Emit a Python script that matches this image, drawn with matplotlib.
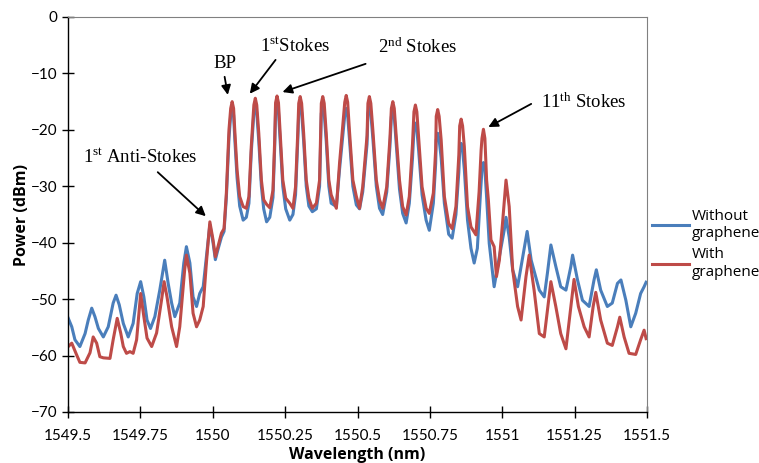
import numpy as np
import matplotlib
matplotlib.use('Agg')
import matplotlib.pyplot as plt

# wavelength (nm) / power (dBm)
wl_without = [
    1549.501, 1549.513, 1549.524, 1549.541, 1549.559, 1549.570, 1549.582, 1549.593,
    1549.605, 1549.622, 1549.639, 1549.656, 1549.666, 1549.677, 1549.691, 1549.708,
    1549.725, 1549.739, 1549.751, 1549.762, 1549.773, 1549.785, 1549.800, 1549.817,
    1549.834, 1549.846, 1549.858, 1549.869, 1549.886, 1549.900, 1549.909, 1549.921,
    1549.932, 1549.944, 1549.955, 1549.967, 1549.978, 1549.990, 1550.001, 1550.009,
    1550.018, 1550.030, 1550.039, 1550.047, 1550.056, 1550.067, 1550.076, 1550.084,
    1550.093, 1550.105, 1550.116, 1550.125, 1550.133, 1550.147, 1550.159, 1550.168,
    1550.176, 1550.186, 1550.197, 1550.208, 1550.214, 1550.222, 1550.233, 1550.242,
    1550.252, 1550.266, 1550.277, 1550.286, 1550.294, 1550.302, 1550.314, 1550.323,
    1550.332, 1550.344, 1550.358, 1550.369, 1550.380, 1550.392, 1550.401, 1550.409,
    1550.427, 1550.438, 1550.461, 1550.472, 1550.484, 1550.496, 1550.507, 1550.518,
    1550.533, 1550.541, 1550.553, 1550.565, 1550.576, 1550.587, 1550.601, 1550.612,
    1550.622, 1550.633, 1550.645, 1550.656, 1550.668, 1550.679, 1550.690, 1550.700,
    1550.711, 1550.723, 1550.737, 1550.748, 1550.762, 1550.770, 1550.777, 1550.789,
    1550.800, 1550.815, 1550.827, 1550.840, 1550.850, 1550.858, 1550.869, 1550.880,
    1550.892, 1550.903, 1550.914, 1550.925, 1550.935, 1550.946, 1550.955, 1550.972,
    1550.990, 1551.007, 1551.013, 1551.024, 1551.036, 1551.053, 1551.071, 1551.086,
    1551.100, 1551.128, 1551.145, 1551.156, 1551.168, 1551.185, 1551.202, 1551.220,
    1551.237, 1551.243, 1551.260, 1551.277, 1551.300, 1551.317, 1551.325, 1551.340,
    1551.363, 1551.380, 1551.398, 1551.410, 1551.427, 1551.444, 1551.461, 1551.478,
    1551.490, 1551.497,
]
p_without = [
    -53.4, -54.9, -57.2, -58.4, -56.1, -53.7, -51.6, -53.1,
    -55.2, -56.7, -54.9, -50.7, -49.3, -51.0, -54.3, -56.7,
    -54.3, -49.0, -46.9, -49.6, -53.7, -55.2, -53.1, -48.4,
    -43.1, -47.2, -50.7, -53.1, -50.7, -43.6, -40.7, -43.6,
    -49.6, -51.3, -49.0, -47.8, -42.5, -36.8, -40.0, -43.0,
    -41.2, -39.0, -38.0, -32.0, -21.5, -16.2, -21.5, -28.5,
    -33.5, -36.0, -35.5, -33.0, -24.0, -15.8, -22.0, -30.0,
    -34.0, -36.3, -35.5, -32.0, -23.0, -15.6, -22.0, -30.0,
    -34.0, -36.0, -35.0, -31.5, -21.5, -15.7, -22.0, -30.0,
    -33.5, -34.5, -34.0, -30.0, -15.9, -22.0, -30.0, -33.0,
    -33.6, -27.0, -16.2, -21.5, -30.0, -33.3, -34.0, -31.0,
    -22.5, -15.9, -21.5, -30.0, -33.9, -35.0, -31.0, -23.0,
    -16.5, -22.0, -30.5, -34.8, -36.5, -33.0, -25.0, -18.8,
    -23.5, -31.5, -36.0, -37.8, -33.0, -26.0, -20.6, -25.0,
    -33.0, -38.5, -39.2, -35.0, -27.5, -22.4, -27.0, -36.0,
    -41.0, -43.6, -41.0, -31.0, -25.8, -32.0, -40.1, -47.8,
    -42.5, -37.7, -35.5, -39.0, -44.8, -47.8, -42.5, -38.0,
    -43.1, -48.4, -49.6, -45.4, -40.4, -44.2, -47.8, -48.4,
    -44.2, -42.2, -46.6, -50.2, -51.3, -46.6, -44.8, -48.4,
    -51.3, -50.7, -47.2, -46.6, -50.2, -54.9, -52.5, -49.0,
    -47.8, -47.0,
]
# shoulder points just either side of each Stokes peak top (rounded tops)
wl_without_tops = [
    1550.062, 1550.072, 1550.142, 1550.152, 1550.217, 1550.227, 1550.297, 1550.307,
    1550.375, 1550.385, 1550.456, 1550.466, 1550.536, 1550.546, 1550.617, 1550.627,
    1550.695, 1550.705, 1550.772, 1550.782, 1550.853, 1550.863, 1550.930, 1550.940,
]
p_without_tops = [
    -17.4, -17.4, -17.0, -17.0, -16.8, -16.8, -16.9, -16.9,
    -17.1, -17.1, -17.4, -17.4, -17.1, -17.1, -17.7, -17.7,
    -20.0, -20.0, -21.8, -21.8, -23.6, -23.6, -27.0, -27.0,
]

wl_with = [
    1549.501, 1549.513, 1549.530, 1549.541, 1549.559, 1549.576, 1549.587, 1549.599,
    1549.610, 1549.622, 1549.645, 1549.656, 1549.670, 1549.682, 1549.691, 1549.702,
    1549.714, 1549.725, 1549.737, 1549.751, 1549.762, 1549.773, 1549.789, 1549.806,
    1549.823, 1549.832, 1549.842, 1549.858, 1549.875, 1549.886, 1549.903, 1549.909,
    1549.921, 1549.932, 1549.944, 1549.955, 1549.967, 1549.978, 1549.990, 1550.001,
    1550.009, 1550.018, 1550.030, 1550.039, 1550.047, 1550.056, 1550.067, 1550.076,
    1550.084, 1550.093, 1550.105, 1550.116, 1550.125, 1550.133, 1550.147, 1550.159,
    1550.168, 1550.176, 1550.186, 1550.197, 1550.208, 1550.214, 1550.222, 1550.233,
    1550.242, 1550.252, 1550.266, 1550.277, 1550.286, 1550.294, 1550.302, 1550.314,
    1550.323, 1550.332, 1550.344, 1550.358, 1550.369, 1550.380, 1550.392, 1550.401,
    1550.409, 1550.427, 1550.438, 1550.461, 1550.472, 1550.484, 1550.496, 1550.507,
    1550.518, 1550.533, 1550.541, 1550.553, 1550.565, 1550.576, 1550.587, 1550.601,
    1550.612, 1550.622, 1550.633, 1550.645, 1550.656, 1550.668, 1550.679, 1550.690,
    1550.700, 1550.711, 1550.723, 1550.737, 1550.748, 1550.762, 1550.770, 1550.777,
    1550.789, 1550.800, 1550.815, 1550.827, 1550.840, 1550.850, 1550.858, 1550.869,
    1550.880, 1550.892, 1550.909, 1550.920, 1550.927, 1550.935, 1550.946, 1550.952,
    1550.961, 1550.972, 1550.980, 1550.990, 1551.001, 1551.013, 1551.024, 1551.036,
    1551.053, 1551.065, 1551.082, 1551.093, 1551.110, 1551.128, 1551.145, 1551.160,
    1551.168, 1551.185, 1551.202, 1551.220, 1551.237, 1551.248, 1551.263, 1551.283,
    1551.300, 1551.314, 1551.323, 1551.340, 1551.363, 1551.380, 1551.398, 1551.406,
    1551.421, 1551.438, 1551.461, 1551.478, 1551.490, 1551.497,
]
p_with = [
    -58.4, -57.8, -59.9, -61.2, -61.3, -59.5, -56.7, -57.8,
    -60.2, -60.4, -60.5, -57.2, -53.4, -56.0, -58.4, -59.6,
    -59.3, -59.6, -57.2, -49.0, -53.1, -56.9, -58.4, -56.0,
    -50.2, -46.9, -49.6, -54.9, -58.4, -54.9, -44.8, -42.2,
    -45.4, -52.5, -54.9, -53.7, -51.3, -43.6, -36.3, -39.5,
    -42.5, -40.7, -38.3, -37.5, -31.2, -20.0, -15.0, -20.0,
    -27.1, -31.8, -33.6, -33.9, -31.8, -23.0, -14.4, -20.6,
    -28.9, -32.4, -33.2, -33.8, -30.7, -21.8, -14.0, -20.6,
    -28.9, -32.1, -33.0, -33.9, -30.1, -20.0, -14.1, -20.6,
    -28.9, -32.1, -33.9, -33.0, -28.9, -14.1, -20.6, -28.9,
    -31.5, -33.9, -25.9, -13.9, -20.0, -28.9, -31.8, -33.9,
    -30.1, -21.0, -14.1, -20.0, -28.9, -32.4, -33.9, -30.1,
    -21.5, -15.0, -20.6, -28.9, -33.6, -35.1, -31.8, -22.5,
    -15.6, -21.2, -30.1, -33.9, -34.8, -31.2, -23.5, -16.4,
    -21.8, -31.8, -36.6, -37.5, -33.6, -24.5, -18.1, -23.0,
    -33.6, -37.2, -38.6, -31.0, -23.6, -19.9, -28.9, -32.4,
    -39.5, -40.7, -46.0, -43.1, -36.5, -28.9, -33.6, -44.8,
    -51.3, -53.7, -46.0, -42.2, -48.4, -56.1, -56.7, -50.2,
    -46.9, -51.3, -56.1, -58.8, -51.3, -46.5, -51.3, -54.9,
    -56.7, -51.3, -48.8, -53.7, -57.8, -58.2, -54.9, -53.2,
    -56.7, -59.6, -59.8, -57.2, -55.5, -57.0,
]
wl_with_tops = [
    1550.062, 1550.072, 1550.142, 1550.152, 1550.217, 1550.227, 1550.297, 1550.307,
    1550.375, 1550.385, 1550.456, 1550.466, 1550.536, 1550.546, 1550.617, 1550.627,
    1550.695, 1550.705, 1550.772, 1550.782, 1550.853, 1550.863, 1550.930, 1550.940,
]
p_with_tops = [
    -16.2, -16.2, -15.6, -15.6, -15.2, -15.2, -15.3, -15.3,
    -15.3, -15.3, -15.1, -15.1, -15.3, -15.3, -16.2, -16.2,
    -16.8, -16.8, -17.6, -17.6, -19.3, -19.3, -21.5, -21.5,
]

x_ticks = [1549.5, 1549.75, 1550, 1550.25, 1550.5, 1550.75, 1551, 1551.25, 1551.5]
x_ticklabels = ['1549.5', '1549.75', '1550', '1550.25', '1550.5', '1550.75',
                '1551', '1551.25', '1551.5']
y_ticks = [0, -10, -20, -30, -40, -50, -60, -70]


def merged(wl, p, wl_tops, p_tops):
    w = np.concatenate([wl, wl_tops])
    v = np.concatenate([p, p_tops])
    order = np.argsort(w)
    return w[order], v[order]


plt.rcParams['mathtext.fontset'] = 'custom'
plt.rcParams['mathtext.rm'] = 'Liberation Serif'
plt.rcParams['mathtext.it'] = 'Liberation Serif:italic'

fig = plt.figure(figsize=(7.59, 4.63), dpi=100)
ax = fig.add_axes([68 / 759, 51 / 463, 579 / 759, 395 / 463])

w1, v1 = merged(wl_without, p_without, wl_without_tops, p_without_tops)
w2, v2 = merged(wl_with, p_with, wl_with_tops, p_with_tops)
ax.plot(w1, v1, color='#4A7EBB', lw=2.2, label='Without\ngraphene')
ax.plot(w2, v2, color='#BE4B48', lw=2.2, label='With\ngraphene')

ax.set_xlim(1549.5, 1551.5)
ax.set_ylim(-70, 0)
ax.set_xticks(x_ticks)
ax.set_xticklabels(x_ticklabels)
ax.set_yticks(y_ticks)
ax.tick_params(direction='inout', length=8, width=1, labelsize=11, colors='black')
ax.tick_params(axis='x', pad=8)
for lab in ax.get_xticklabels() + ax.get_yticklabels():
    lab.set_family('Lato')

for s in ['left', 'bottom']:
    ax.spines[s].set_color('black')
    ax.spines[s].set_linewidth(1.0)
for s in ['top', 'right']:
    ax.spines[s].set_color('#808080')
    ax.spines[s].set_linewidth(0.8)

ax.set_xlabel('Wavelength (nm)', family='Open Sans', fontweight='bold', fontsize=11.5, labelpad=3)
ax.set_ylabel('Power (dBm)', family='Open Sans', fontweight='bold', fontsize=11.5, labelpad=1)

# annotations
arrow = dict(arrowstyle='-|>', color='black', lw=1.3, mutation_scale=14, shrinkA=0, shrinkB=0)
tfont = dict(family='Liberation Serif', fontsize=13.5, color='black')

ax.annotate('', xy=(1549.976, -35.3), xytext=(1549.810, -27.5), arrowprops=arrow)
ax.text(1549.552, -24.8, r'1$^{\rm st}$ Anti-Stokes', ha='left', va='center', **tfont)

ax.annotate('', xy=(1550.052, -13.8), xytext=(1550.041, -10.6), arrowprops=arrow)
ax.text(1550.041, -8.3, 'BP', ha='center', va='center', **tfont)

ax.annotate('', xy=(1550.128, -13.6), xytext=(1550.217, -7.6), arrowprops=arrow)
ax.text(1550.283, -5.1, r'1$^{\rm st}$Stokes', ha='center', va='center', **tfont)

ax.annotate('', xy=(1550.241, -13.3), xytext=(1550.528, -8.3), arrowprops=arrow)
ax.text(1550.707, -5.3, r'2$^{\rm nd}$ Stokes', ha='center', va='center', **tfont)

ax.annotate('', xy=(1550.952, -19.5), xytext=(1551.100, -15.4), arrowprops=arrow)
ax.text(1551.283, -15.1, r'11$^{\rm th}$ Stokes', ha='center', va='center', **tfont)

fig.legend(loc='upper left', bbox_to_anchor=(652 / 759, 1 - 209 / 463), frameon=False,
           prop={'family': 'Open Sans', 'size': 11}, handlelength=2.4, handletextpad=0.2,
           labelspacing=0.4, borderpad=0, borderaxespad=0)

fig.savefig('out.png', dpi=100)
